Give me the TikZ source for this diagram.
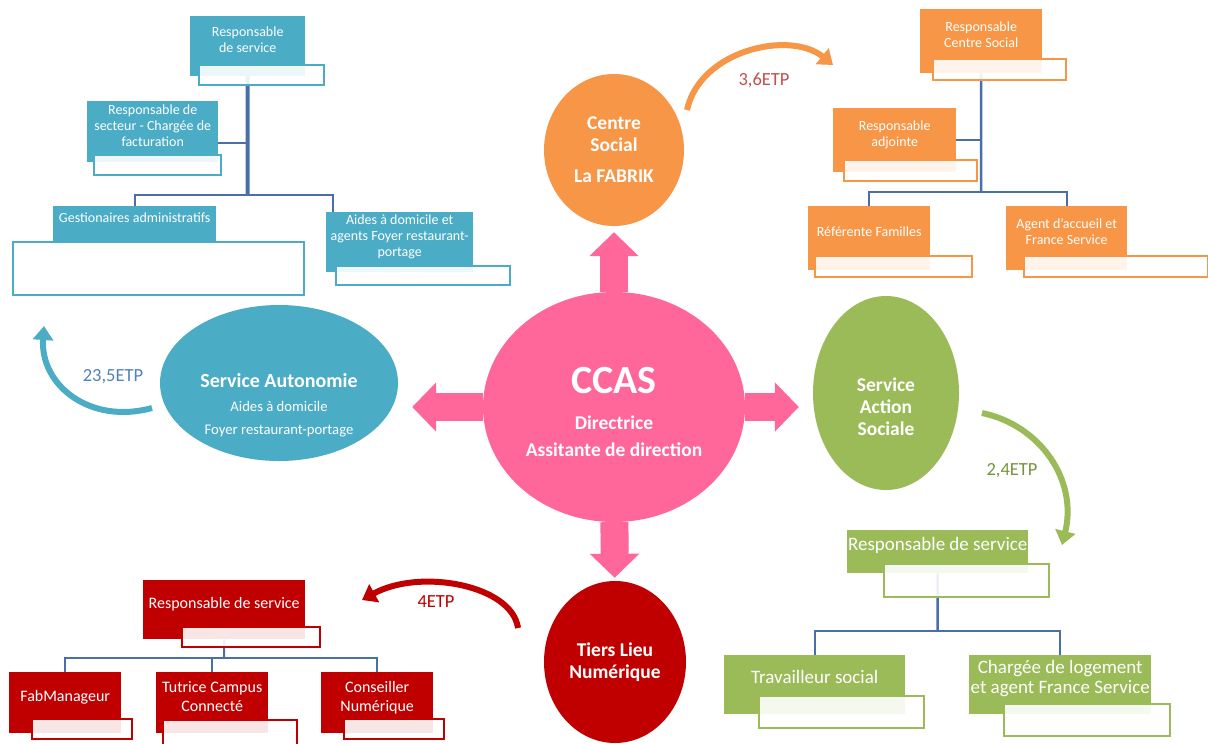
\documentclass[tikz,border=0pt]{standalone}
\usepackage{fontspec}
\setmainfont{Carlito}
\usepackage{tikz}
\usetikzlibrary{arrows.meta,positioning,shapes.geometric,backgrounds}
\definecolor{CcasPink}{HTML}{FF6699}
\definecolor{SocOrange}{HTML}{F79646}
\definecolor{AutBlue}{HTML}{4BACC6}
\definecolor{AsoGreen}{HTML}{9BBB59}
\definecolor{TieRed}{HTML}{C00000}
\definecolor{OrgLine}{HTML}{4A6EA8}
\definecolor{EtpRed}{HTML}{C0504D}
\definecolor{EtpBlue}{HTML}{4F81BD}
\definecolor{EtpGreen}{HTML}{77933C}

\begin{document}
\begin{tikzpicture}[
  x=1pt,
  y=-1pt,
  every node/.style={text=white, inner sep=0pt},
  service/.style={ellipse, align=center, font=\bfseries\fontsize{19.5}{22}\selectfont},
  orgbox/.style={anchor=north west, align=center, text depth=13pt, font=\fontsize{14}{16}\selectfont},
  subbox/.style={anchor=north west, fill=white, fill opacity=0.9, line width=1.5pt},
  orgline/.style={OrgLine, line width=2pt},
  ccasarrow/.style={CcasPink, line width=28pt, -{Triangle[length=24pt,width=48pt]}},
  etparrow/.style={line width=6pt, -{Triangle[length=14pt,width=20pt]}},
  etp/.style={font=\fontsize{18.5}{20}\selectfont}
]
\useasboundingbox (0,0) rectangle (1208,744);

% CCAS and the four services
\node[service, fill=CcasPink, minimum width=262pt, minimum height=230pt] (ccas) at (614,407)
  {\rule{0pt}{36pt}{\fontsize{40}{42}\selectfont CCAS}\\[14pt]Directrice\\[5pt]Assitante de direction};
\node[service, fill=SocOrange, minimum width=140pt, minimum height=152pt] (soc) at (614,150)
  {Centre\\Social\\[9pt]La FABRIK};
\node[service, fill=AutBlue, minimum width=238pt, minimum height=156pt] (aut) at (279,383) {};
\node[align=center, font=\fontsize{14.7}{23}\selectfont] (autText) at (279,405)
  {{\bfseries\fontsize{20}{23}\selectfont Service Autonomie}\\[1pt]Aides à domicile\\Foyer restaurant-portage};
\node[service, fill=AsoGreen, minimum width=146pt, minimum height=194pt] (aso) at (886,393) {};
\node[align=center, font=\bfseries\fontsize{19.5}{22}\selectfont] (asoText) at (886,407)
  {Service\\Action\\Sociale};
\node[service, fill=TieRed, minimum width=142pt, minimum height=162pt] (tie) at (615,662)
  {Tiers Lieu\\Numérique};

\draw[ccasarrow, shorten >=6pt] (ccas) -- (soc);
\draw[ccasarrow, shorten >=3pt] (ccas) -- (tie);
\draw[ccasarrow, shorten >=14pt] (ccas) -- (ccas -| aut.east);
\draw[ccasarrow, shorten >=14pt] (ccas) -- (ccas -| aso.west);

% ETP arrows
\coordinate (socA) at (687,110);
\coordinate (socB) at (833,65);
\draw[etparrow, SocOrange] (socA) .. controls (700,50) and (790,30) .. (socB);
\node[etp, text=EtpRed] (socEtp) at (764,80) {3,6ETP};

\coordinate (autA) at (152,408);
\coordinate (autB) at (44,326);
\draw[etparrow, AutBlue] (autA) .. controls (90,425) and (40,385) .. (autB);
\node[etp, text=EtpBlue] (autEtp) at (113,377) {23,5ETP};

\coordinate (asoA) at (982,413);
\coordinate (asoB) at (1062,545);
\draw[etparrow, AsoGreen] (asoA) .. controls (1040,425) and (1078,480) .. (asoB);
\node[etp, text=EtpGreen] (asoEtp) at (1012,471) {2,4ETP};

\coordinate (tieA) at (518,628);
\coordinate (tieB) at (362,600);
\draw[etparrow, TieRed] (tieA) .. controls (512,585) and (420,568) .. (tieB);
\node[etp, text=TieRed] (tieEtp) at (436,602) {4ETP};

% Service Autonomie team
\node[orgbox, fill=AutBlue, minimum width=115pt, minimum height=60pt] (autResp) at (190,16) {Responsable\\de service};
\node[subbox, draw=AutBlue, minimum width=125pt, minimum height=20pt] (autRespT) at (198,64) {};
\node[orgbox, fill=AutBlue, minimum width=131pt, minimum height=61pt] (autSect) at (87,101) {Responsable de\\secteur - Chargée de\\facturation};
\node[subbox, draw=AutBlue, minimum width=127pt, minimum height=20pt] (autSectT) at (93,154) {};
\node[orgbox, fill=AutBlue, minimum width=163pt, minimum height=35pt] (autGest) at (53,206) {Gestionaires administratifs};
\node[subbox, draw=AutBlue, minimum width=291pt, minimum height=53pt] (autGestT) at (12,241) {};
\node[orgbox, fill=AutBlue, minimum width=147pt, minimum height=60pt] (autAides) at (326,212) {Aides à domicile et\\agents Foyer restaurant-\\portage};
\node[subbox, draw=AutBlue, minimum width=174pt, minimum height=19pt] (autAidesT) at (335,265) {};

% Centre Social team
\node[orgbox, fill=SocOrange, minimum width=122pt, minimum height=64pt] (socResp) at (920,9) {Responsable\\Centre Social};
\node[subbox, draw=SocOrange, minimum width=133pt, minimum height=21pt] (socRespT) at (932,58) {};
\node[orgbox, fill=SocOrange, minimum width=123pt, minimum height=64pt] (socAdj) at (833,108) {Responsable\\adjointe};
\node[subbox, draw=SocOrange, minimum width=133pt, minimum height=21pt] (socAdjT) at (843,159) {};
\node[orgbox, fill=SocOrange, minimum width=122pt, minimum height=64pt] (socRef) at (808,206) {Référente Familles};
\node[subbox, draw=SocOrange, minimum width=157pt, minimum height=21pt] (socRefT) at (814,255) {};
\node[orgbox, fill=SocOrange, minimum width=121pt, minimum height=64pt] (socAgent) at (1006,206) {Agent d'accueil et\\France Service};
\node[subbox, draw=SocOrange, minimum width=184pt, minimum height=21pt] (socAgentT) at (1023,255) {};

% Tiers Lieu team
\node[orgbox, fill=TieRed, font=\fontsize{16}{19}\selectfont, minimum width=162pt, minimum height=59pt] (tieResp) at (143,580) {Responsable de service};
\node[subbox, draw=TieRed, minimum width=138pt, minimum height=20pt] (tieRespT) at (181,626) {};
\node[orgbox, fill=TieRed, font=\fontsize{16}{19}\selectfont, minimum width=112pt, minimum height=61pt] (tieFab) at (9,672) {FabManageur};
\node[subbox, draw=TieRed, minimum width=100pt, minimum height=20pt] (tieFabT) at (31,718) {};
\node[orgbox, fill=TieRed, font=\fontsize{16}{19}\selectfont, minimum width=112pt, minimum height=61pt] (tieTut) at (156,672) {Tutrice Campus\\Connecté};
\node[subbox, draw=TieRed, minimum width=134pt, minimum height=35pt] (tieTutT) at (162,719) {};
\node[orgbox, fill=TieRed, font=\fontsize{16}{19}\selectfont, minimum width=112pt, minimum height=61pt] (tieCons) at (321,672) {Conseiller\\Numérique};
\node[subbox, draw=TieRed, minimum width=100pt, minimum height=20pt] (tieConsT) at (343,718) {};

% Action Sociale team
\node[orgbox, fill=AsoGreen, font=\fontsize{19}{20}\selectfont, text depth=16pt, minimum width=181pt, minimum height=43pt] (asoResp) at (847,530) {Responsable de service};
\node[subbox, draw=AsoGreen, minimum width=165pt, minimum height=33pt] (asoRespT) at (883,563) {};
\node[orgbox, fill=AsoGreen, font=\fontsize{19}{20}\selectfont, text depth=16pt, minimum width=181pt, minimum height=59pt] (asoTrav) at (724,655) {Travailleur social};
\node[subbox, draw=AsoGreen, minimum width=165pt, minimum height=32pt] (asoTravT) at (758,695) {};
\node[orgbox, fill=AsoGreen, font=\fontsize{19}{20}\selectfont, text depth=16pt, minimum width=182pt, minimum height=59pt] (asoLog) at (969,655) {Chargée de logement\\et agent France Service};
\node[subbox, draw=AsoGreen, minimum width=166pt, minimum height=32pt] (asoLogT) at (1003,703) {};

% org lines behind the boxes
\begin{scope}[on background layer]
\coordinate (autBus) at (247.5,195);
\draw[orgline, line width=4pt] (autResp.south) -- (autBus);
\draw[orgline] (autGest.north) |- (autBus) -| ([xshift=7pt]autAides.north west);
\draw[orgline] ([yshift=-11pt]autSect.east) -- ([yshift=-11pt]autSect.east -| autResp.south);

\coordinate (socBus) at (981,192);
\draw[orgline, line width=2.5pt] (socResp.south) -- (socBus);
\draw[orgline] (socRef.north) |- (socBus) -| (socAgent.north);
\draw[orgline] (socAdj.east) -- (socAdj.east -| socResp.south);

\coordinate (tieBus) at (224,658);
\draw[orgline] (tieResp.south) -- (tieBus);
\draw[orgline] (tieFab.north) |- (tieBus) -| (tieCons.north);
\draw[orgline] (tieTut.north) -- (tieTut.north |- tieBus);

\coordinate (asoBus) at (937.5,631);
\draw[orgline, line width=2.5pt] (asoResp.south) -- (asoBus);
\draw[orgline] (asoTrav.north) |- (asoBus) -| (asoLog.north);
\end{scope}
\end{tikzpicture}
\end{document}
